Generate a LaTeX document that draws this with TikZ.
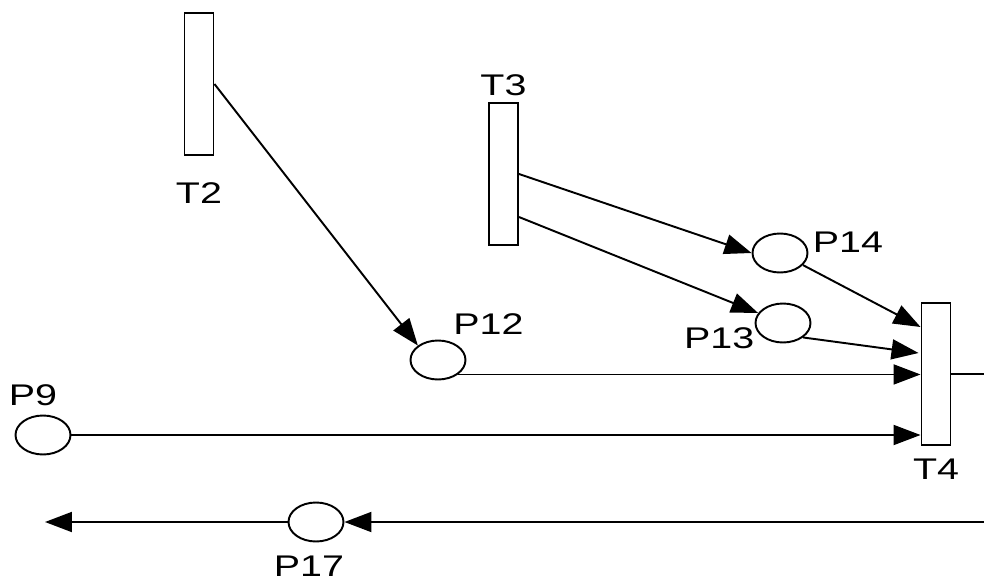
\documentclass[tikz,border=0pt]{standalone}
\usepackage{fontspec}
\usepackage{tikz}
\usetikzlibrary{positioning,arrows.meta,shapes,calc}
\newfontfamily\netfont[FakeStretch=1.32]{Liberation Sans}

\begin{document}
\begin{tikzpicture}[
    x=0.02cm, y=-0.02cm,
    trans/.style={rectangle, draw=black, fill=white, line width=1.1pt,
        minimum width=0.58cm, minimum height=2.84cm, inner sep=0pt},
    place/.style={ellipse, draw=black, fill=white, line width=1.1pt,
        minimum width=1.1cm, minimum height=0.78cm, inner sep=0pt},
    lbl/.style={font=\netfont\fontsize{17}{20}\selectfont, inner sep=0pt},
    arc/.style={-{Triangle[length=0.54cm, width=0.4cm]}, line width=1.1pt}
]
\useasboundingbox (0,0) rectangle (984,581);

\node[trans] (t2) at (199,84) {};
\node[trans] (t3) at (503.5,174) {};
\node[trans] (t4) at (936,374) {};

\node[place] (p14) at (780,253) {};
\node[place] (p13) at (783,323) {};
\node[place] (p12) at (438,360) {};
\node[place] (p9) at (43,435) {};
\node[place] (p17) at (316,522) {};

\node[lbl, below=0.52cm of t2] (t2l) {T2};
\node[lbl, above=0.12cm of t3] (t3l) {T3};
\node[lbl, below=0.26cm of t4] (t4l) {T4};
\node[lbl, anchor=south west, xshift=0.08cm] (p14l) at (p14.east) {P14};
\node[lbl, anchor=north east, yshift=-0.08cm] (p13l) at (p13.west) {P13};
\node[lbl, anchor=south west, xshift=0.3cm, yshift=0.1cm] (p12l) at (p12.north) {P12};
\node[lbl, above=0.16cm of p9, xshift=-0.2cm] (p9l) {P9};
\node[lbl, below=0.27cm of p17, xshift=-0.14cm] (p17l) {P17};

\coordinate (t4out) at (984,374);
\coordinate (p17in) at (984,522);
\coordinate (p17out) at (45,522);

\draw[arc] (t2.east) -- (p12.north west);
\draw[arc] (t3.east) -- (p14.west);
\draw[arc] ($(t3.east)+(0,43)$) -- (p13);
\draw[arc] (p14) -- ($(t4.west)+(0,-47)$);
\draw[arc] (p13.south east) -- ($(t4.west)+(-2,-21)$);
\draw[arc] (p12.south east) -- (p12.south east -| t4.west);
\draw[arc] (p9) -- (p9 -| t4.west);
\draw[line width=1.1pt] (t4.east) -- (t4out);
\draw[arc] (p17in) -- (p17);
\draw[arc] (p17) -- (p17out);
\end{tikzpicture}
\end{document}
